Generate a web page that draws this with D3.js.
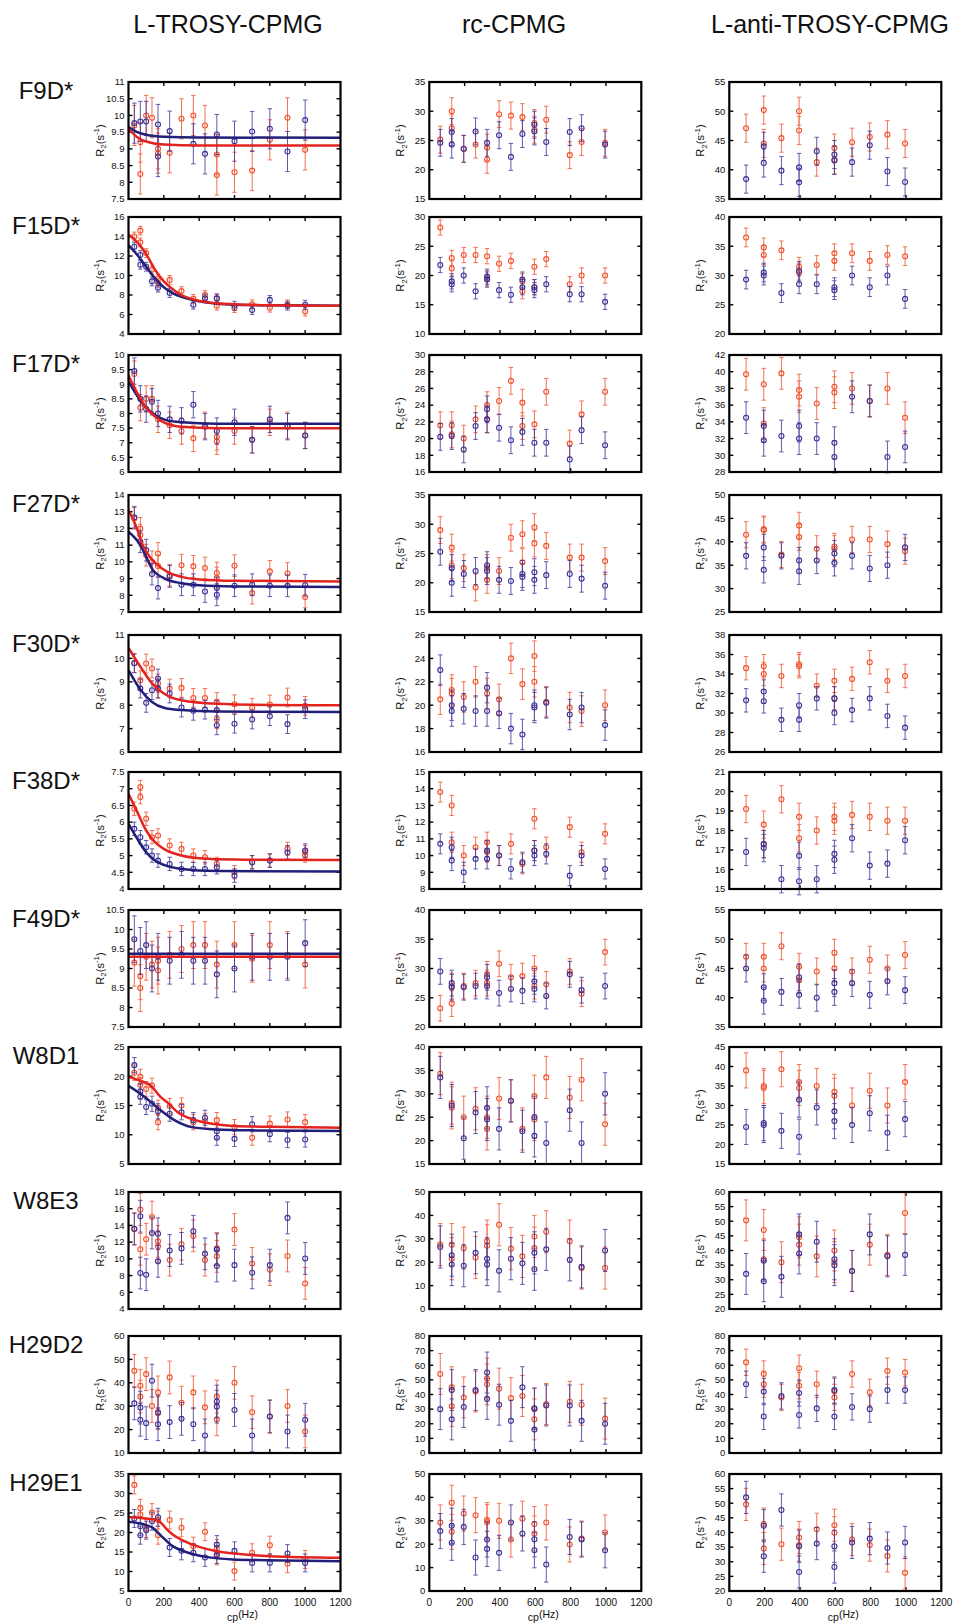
<!DOCTYPE html>
<html>
<head>
<meta charset="utf-8">
<script src="https://cdn.jsdelivr.net/npm/d3@7"></script>
<style>
body { margin: 0; background: #fff; }
text { font-family: "Liberation Sans", Arial, sans-serif; fill: #111; }
</style>
</head>
<body>
<div id="chart"></div>
<script>
// ---- data ----
var residues = ["F9D*", "F15D*", "F17D*", "F27D*", "F30D*", "F38D*", "F49D*", "W8D1", "W8E3", "H29D2", "H29E1"];
var methods = ["L-TROSY-CPMG", "rc-CPMG", "L-anti-TROSY-CPMG"];
var xTicks = [0, 200, 400, 600, 800, 1000, 1200];

// [min, max, step] of each y axis
var trosyY = [[7.5,11,0.5],[4,16,2],[6,10,0.5],[7,14,1],[6,11,1],[4,7.5,0.5],[7.5,10.5,0.5],[5,25,5],[4,18,2],[10,60,10],[5,35,5]];
var rcY = [[15,35,5],[10,30,5],[16,30,2],[15,35,5],[16,26,2],[8,15,1],[20,40,5],[15,40,5],[0,50,10],[0,80,10],[0,50,10]];
var antiY = [[35,55,5],[20,40,5],[28,42,2],[25,50,5],[26,38,2],[15,21,1],[35,55,5],[15,45,5],[20,60,5],[0,80,10],[20,60,5]];

// half error bar, per panel
var trosyErr = [0.6,0.45,0.45,0.65,0.4,0.2,0.6,1.3,1.9,7,2.3];
var rcErr = [2.3,1.3,1.6,2.3,1.3,0.6,2.2,4.5,9,14,7.5];
var antiErr = [2.4,1.6,1.9,2.8,1.2,0.7,2.3,4.5,7,9,5.5];

// [nu_cp (Hz), R2 (s-1)]
var trosyBlue = [
  [[33,9.77],[67,9.82],[100,9.82],[167,9.73],[167,8.77],[233,9.53],[367,9.15],[433,8.85],[500,9.43],[600,9.23],[700,9.52],[800,9.6],[900,8.92],[1000,9.86]],
  [[33,12.95],[67,12.1],[67,11.1],[100,10.9],[133,9.4],[167,8.75],[233,8.2],[367,7.0],[433,7.65],[500,7.65],[600,6.9],[700,6.45],[800,7.5],[900,6.9],[1000,7.0]],
  [[33,9.45],[67,8.5],[100,8.15],[133,8.4],[167,8.0],[233,7.8],[300,7.75],[367,8.3],[433,7.55],[500,7.4],[600,7.7],[700,7.1],[800,7.8],[900,7.55],[1000,7.25]],
  [[33,12.67],[67,11.2],[100,10.7],[133,9.27],[167,8.43],[233,9.13],[300,8.63],[367,8.63],[433,8.23],[500,8.03],[500,8.43],[600,8.57],[700,8.63],[800,8.57],[900,8.57],[1000,8.6]],
  [[33,9.79],[67,8.71],[100,8.1],[133,8.64],[167,9.14],[167,8.71],[233,8.5],[300,7.9],[367,7.76],[433,7.81],[500,7.79],[500,7.14],[600,7.21],[700,7.39],[800,7.53],[900,7.19],[1000,7.83]],
  [[33,5.8],[67,5.55],[100,5.25],[133,5.0],[167,4.85],[233,4.75],[300,4.6],[367,4.6],[433,4.6],[500,4.65],[600,4.4],[700,4.8],[800,4.85],[900,5.1],[1000,5.15]],
  [[33,9.75],[67,9.45],[100,9.6],[133,9.0],[167,9.3],[233,9.2],[300,9.35],[367,9.2],[433,9.2],[500,8.85],[600,9.0],[700,9.3],[800,9.3],[900,9.3],[1000,9.65]],
  [[33,21.9],[67,17.4],[67,16.5],[100,14.75],[133,15.3],[167,14.0],[233,13.6],[300,13.85],[367,12.5],[433,12.9],[500,9.5],[500,10.6],[600,9.3],[700,11.8],[800,10.1],[900,9.1],[1000,9.2]],
  [[33,13.6],[67,15.1],[67,8.3],[100,8.1],[133,13.1],[167,13.0],[167,9.7],[233,11.0],[300,11.25],[367,13.3],[433,10.6],[500,11.1],[500,9.15],[600,9.25],[700,8.33],[800,9.25],[900,14.9],[1000,10.05]],
  [[33,31.2],[67,29.4],[67,24.2],[100,22.75],[133,40.9],[167,22.3],[167,27.4],[233,23.2],[300,24.6],[367,22.3],[433,17.5],[500,32.0],[500,29.8],[600,28.4],[700,17.5],[800,25.6],[900,19.2],[1000,24.2]],
  [[33,23.6],[67,19.3],[67,21.6],[100,20.6],[133,22.9],[167,23.9],[233,16.15],[300,15.3],[367,14.8],[433,13.6],[500,14.35],[500,16.9],[600,15.3],[700,12.2],[800,12.2],[900,14.6],[1000,12.2]]
];
var trosyRed = [
  [[33,9.7],[67,9.2],[67,8.25],[100,10.0],[133,9.93],[167,9.0],[167,8.87],[233,8.88],[300,9.9],[367,10.0],[433,9.7],[500,8.83],[500,8.22],[600,8.3],[700,8.35],[800,9.27],[900,9.93],[1000,8.97]],
  [[33,14.0],[67,14.6],[67,13.4],[100,12.3],[133,10.6],[167,9.7],[167,9.25],[233,9.55],[300,8.4],[367,7.6],[433,8.0],[500,7.65],[500,6.9],[600,6.65],[700,7.05],[800,6.7],[900,7.05],[1000,6.3]],
  [[33,9.35],[67,8.2],[100,8.5],[133,8.5],[167,7.8],[233,7.6],[300,7.4],[367,7.15],[433,7.6],[500,7.2],[500,7.05],[600,7.4],[700,7.1],[800,7.7],[900,7.6],[1000,7.25]],
  [[33,12.6],[67,12.0],[67,11.6],[100,10.4],[133,10.0],[167,10.5],[167,9.75],[233,9.2],[300,9.8],[367,9.73],[433,9.63],[500,9.33],[500,9.03],[600,9.77],[700,8.13],[800,9.43],[900,9.3],[1000,7.9]],
  [[33,9.8],[67,9.07],[100,9.78],[133,9.57],[167,8.93],[167,8.71],[233,8.71],[300,8.74],[367,8.31],[433,8.31],[500,8.14],[500,7.4],[600,8.04],[700,7.89],[800,8.03],[900,8.33],[1000,7.97]],
  [[33,6.4],[67,7.05],[67,6.75],[100,6.1],[133,5.55],[167,5.6],[233,5.3],[300,5.2],[367,5.0],[433,4.95],[500,4.75],[600,4.5],[700,4.8],[800,4.85],[900,5.2],[1000,5.1],[1000,5.0]],
  [[33,9.15],[67,8.8],[67,8.5],[100,9.3],[133,9.1],[167,9.2],[167,8.95],[233,9.35],[300,9.5],[367,9.6],[433,9.6],[500,9.1],[600,9.6],[700,9.25],[800,9.6],[900,9.35],[1000,9.1]],
  [[33,20.6],[67,19.9],[67,18.5],[100,17.8],[133,18.4],[167,14.6],[167,12.15],[233,14.9],[300,15.0],[367,12.15],[433,12.3],[500,12.5],[600,11.3],[700,9.5],[800,11.9],[900,12.6],[1000,12.15]],
  [[33,13.55],[67,15.9],[67,11.15],[100,12.35],[133,15.0],[167,12.1],[167,11.5],[233,9.85],[300,11.75],[367,12.75],[433,9.85],[500,10.3],[500,11.25],[600,13.5],[700,9.45],[800,8.7],[900,10.35],[1000,7.06]],
  [[33,45.1],[67,38.75],[67,34.1],[100,43.7],[133,30.1],[167,35.9],[167,27.0],[233,42.3],[300,31.5],[367,35.9],[433,29.5],[500,34.1],[500,24.4],[600,40.0],[700,27.4],[800,25.6],[900,30.1],[1000,19.2]],
  [[33,32.2],[67,26.2],[67,24.6],[100,21.0],[133,25.1],[167,23.2],[167,19.3],[233,23.2],[300,21.2],[367,16.5],[433,20.2],[500,14.0],[500,15.9],[600,10.1],[700,14.8],[800,16.75],[900,12.0],[1000,13.1]]
];

// fitted curves, points (null = no fit shown)
var trosyFitBlue = [
  [[0,9.65],[50,9.5],[100,9.42],[200,9.36],[400,9.34],[1200,9.33]],
  [[0,13.1],[50,12.1],[100,10.9],[150,9.7],[200,8.8],[250,8.2],[300,7.8],[400,7.35],[500,7.1],[600,7.0],[800,6.95],[1200,6.9]],
  [[0,9.1],[50,8.6],[100,8.2],[150,7.95],[200,7.8],[300,7.7],[500,7.65],[1200,7.65]],
  [[0,11.8],[67,11.0],[100,10.3],[133,9.6],[200,9.03],[300,8.72],[400,8.6],[600,8.53],[1200,8.5]],
  [[0,9.5],[67,8.67],[133,8.14],[200,7.89],[300,7.79],[500,7.73],[1200,7.71]],
  [[0,5.95],[50,5.5],[100,5.1],[150,4.85],[200,4.72],[300,4.6],[500,4.54],[1200,4.52]],
  [[0,9.38],[1200,9.38]],
  [[0,18.35],[90,16.5],[165,14.6],[260,12.5],[360,11.3],[500,10.9],[700,10.75],[1200,10.65]],
  null,
  null,
  [[0,22.75],[100,21.9],[137,21.2],[175,19.6],[250,16.5],[325,15.0],[438,13.75],[590,13.1],[780,12.9],[1200,12.6]]
];
var trosyFitRed = [
  [[0,9.6],[50,9.35],[100,9.22],[200,9.13],[400,9.1],[1200,9.1]],
  [[0,14.2],[50,13.4],[100,12.2],[150,10.6],[200,9.4],[250,8.6],[300,8.0],[400,7.4],[500,7.15],[600,7.05],[800,6.95],[1200,6.9]],
  [[0,9.3],[50,8.7],[100,8.2],[150,7.9],[200,7.7],[300,7.55],[500,7.5],[1200,7.5]],
  [[0,13.1],[40,12.2],[85,10.9],[120,10.3],[160,9.85],[220,9.4],[300,9.1],[400,8.95],[600,8.87],[1200,8.83]],
  [[0,10.45],[67,9.65],[133,8.93],[200,8.5],[300,8.21],[500,8.06],[800,8.01],[1200,8.0]],
  [[0,6.85],[50,6.3],[100,5.75],[150,5.4],[200,5.2],[300,5.0],[400,4.92],[600,4.88],[1200,4.87]],
  [[0,9.3],[1200,9.3]],
  [[0,19.9],[60,19.3],[130,18.3],[180,16.5],[225,15.4],[280,13.8],[340,12.9],[450,12.0],[600,11.5],[800,11.35],[1200,11.2]],
  null,
  null,
  [[0,24.0],[100,23.6],[160,23.2],[190,22.2],[213,21.0],[250,19.5],[307,18.0],[400,16.3],[500,15.2],[600,14.6],[800,13.9],[1200,13.5]]
];

var rcBlue = [
  [[62,24.6],[127,26.45],[127,24.3],[195,23.6],[262,26.55],[327,24.6],[395,25.9],[462,22.2],[527,26.1],[595,26.55],[595,27.7],[662,24.75],[795,26.45],[862,27.1],[995,24.3]],
  [[62,21.8],[127,19.0],[127,18.5],[195,20.0],[262,17.3],[327,19.8],[327,19.3],[395,17.5],[462,16.7],[527,19.3],[527,18.0],[595,17.5],[595,18.0],[662,18.5],[795,16.8],[862,16.8],[995,15.5]],
  [[62,20.2],[127,20.3],[195,18.7],[262,21.5],[327,22.3],[327,23.5],[395,21.3],[462,19.8],[527,20.8],[595,19.5],[662,19.5],[795,17.5],[862,21.0],[995,19.2]],
  [[62,25.3],[127,22.5],[127,20.0],[195,21.5],[262,22.0],[327,23.0],[327,22.0],[395,20.5],[462,20.3],[527,21.5],[527,21.0],[595,21.8],[595,20.5],[662,21.3],[795,21.5],[862,20.7],[995,19.5]],
  [[62,23.0],[127,20.0],[127,19.5],[195,19.7],[262,19.5],[327,21.5],[327,19.5],[395,19.3],[462,18.0],[527,17.5],[595,20.0],[595,19.8],[662,20.2],[795,19.2],[862,19.8],[995,18.3]],
  [[62,10.7],[127,9.7],[127,10.5],[195,9.0],[262,9.8],[327,10.3],[327,9.8],[395,10.0],[462,9.2],[527,9.6],[595,10.3],[595,10.0],[662,10.1],[795,8.8],[862,10.0],[995,9.2]],
  [[62,29.5],[127,26.8],[127,27.5],[195,26.8],[262,27.0],[327,28.5],[327,27.0],[395,25.8],[462,26.5],[527,26.2],[595,27.8],[595,26.5],[662,25.3],[795,29.0],[862,26.3],[995,27.0]],
  [[62,33.5],[127,27.5],[195,20.5],[262,26.0],[327,27.0],[327,24.5],[395,22.5],[462,28.5],[527,22.0],[595,25.0],[595,21.0],[662,19.5],[795,26.5],[862,19.5],[995,30.0]],
  [[62,26.5],[127,23.0],[127,19.0],[195,18.5],[262,24.0],[327,21.5],[327,19.0],[395,16.3],[462,21.5],[527,19.5],[595,24.0],[595,17.0],[662,25.5],[795,21.0],[862,18.0],[995,25.0]],
  [[62,30.0],[127,43.0],[127,23.0],[195,31.5],[262,43.0],[327,55.0],[327,37.0],[395,33.0],[462,22.0],[527,45.0],[595,30.5],[595,16.0],[662,32.5],[795,32.5],[862,22.0],[995,20.0]],
  [[62,25.6],[127,27.9],[127,20.6],[195,27.4],[262,14.3],[327,22.0],[327,18.0],[395,16.3],[462,29.3],[527,24.6],[595,22.1],[595,17.4],[662,11.3],[795,23.1],[862,22.0],[995,17.4]]
];
var rcRed = [
  [[62,25.15],[127,30.0],[127,27.1],[195,23.55],[262,24.3],[327,23.8],[327,21.7],[395,29.5],[462,29.25],[527,29.0],[595,28.0],[595,26.85],[662,28.55],[795,22.5],[862,24.75],[995,24.6]],
  [[62,28.2],[127,23.0],[127,21.2],[195,23.5],[262,23.5],[327,19.5],[327,23.3],[395,22.0],[462,22.5],[527,19.0],[527,17.3],[595,21.5],[595,18.0],[662,22.8],[795,18.5],[862,20.0],[995,20.0]],
  [[62,21.6],[127,21.6],[127,20.5],[195,20.0],[262,22.3],[327,24.0],[327,22.3],[395,24.5],[462,26.9],[527,24.3],[527,21.5],[595,21.7],[662,25.6],[795,19.4],[862,22.9],[995,25.6]],
  [[62,29.0],[127,26.0],[127,23.0],[195,22.5],[262,19.2],[327,22.5],[327,20.5],[395,22.0],[462,27.7],[527,28.3],[527,23.5],[595,29.5],[595,26.7],[662,26.3],[795,24.3],[862,24.3],[995,23.7]],
  [[62,20.5],[127,21.3],[127,21.0],[195,20.7],[262,22.0],[327,21.0],[395,20.5],[462,24.0],[527,21.8],[595,24.2],[595,22.0],[662,20.3],[795,19.8],[862,19.5],[995,20.0]],
  [[62,13.8],[127,13.0],[127,10.8],[195,10.0],[262,10.5],[327,10.8],[327,10.2],[395,10.0],[462,10.7],[527,9.5],[595,12.2],[595,10.3],[662,10.5],[795,11.7],[862,10.2],[995,11.3]],
  [[62,23.2],[127,24.0],[127,27.0],[195,27.0],[262,27.5],[327,29.0],[327,27.5],[395,30.8],[462,28.5],[527,28.7],[595,30.0],[595,27.0],[662,27.3],[795,29.5],[862,25.7],[995,32.8]],
  [[62,34.3],[127,28.0],[127,27.0],[195,25.0],[262,26.8],[327,25.0],[327,22.5],[395,29.0],[462,28.5],[527,22.5],[595,29.5],[595,24.5],[662,33.5],[795,29.2],[862,33.0],[995,23.5]],
  [[62,27.5],[127,27.5],[127,21.5],[195,26.0],[262,22.0],[327,27.0],[327,29.0],[395,36.0],[462,25.8],[527,22.5],[595,31.0],[595,26.0],[662,33.0],[795,29.0],[862,17.5],[995,17.5]],
  [[62,54.0],[127,45.0],[127,32.0],[195,38.0],[262,42.0],[327,51.0],[327,47.0],[395,44.0],[462,37.5],[527,39.0],[595,30.0],[595,23.0],[662,33.5],[795,35.0],[862,33.0],[995,23.5]],
  [[62,29.3],[127,37.7],[127,25.3],[195,33.1],[262,32.4],[327,30.3],[327,29.4],[395,30.0],[462,22.0],[527,30.9],[595,28.6],[595,24.6],[662,29.3],[795,19.9],[862,22.4],[995,25.0]]
];

var antiBlue = [
  [[95,38.4],[195,44.0],[195,41.15],[295,39.85],[395,40.4],[395,37.85],[495,43.15],[595,42.6],[595,41.6],[695,41.3],[795,44.2],[895,39.7],[995,37.9]],
  [[95,29.3],[195,30.5],[195,30.0],[295,27.0],[395,30.8],[395,28.5],[495,28.5],[595,28.0],[595,27.5],[695,30.0],[795,28.0],[895,30.0],[995,26.0]],
  [[95,34.5],[195,33.5],[195,31.8],[295,32.3],[395,33.5],[395,32.0],[495,32.0],[595,31.5],[595,29.8],[695,37.0],[795,36.5],[895,29.8],[995,31.0]],
  [[95,37.0],[195,38.8],[195,34.0],[295,37.0],[395,36.0],[395,33.7],[495,36.0],[595,37.5],[595,35.5],[695,37.0],[795,34.3],[895,35.0],[995,38.8]],
  [[95,31.3],[195,32.2],[195,31.2],[295,29.3],[395,30.8],[395,29.3],[495,31.5],[595,31.5],[595,30.0],[695,30.3],[795,31.5],[895,29.7],[995,28.5]],
  [[95,16.9],[195,17.3],[195,17.1],[295,15.5],[395,16.7],[395,15.4],[495,15.5],[595,16.8],[595,16.5],[695,17.6],[795,16.2],[895,16.3],[995,17.5]],
  [[95,45.0],[195,41.8],[195,39.5],[295,41.0],[395,43.5],[395,40.5],[495,40.0],[595,42.5],[595,41.0],[695,42.5],[795,40.5],[895,42.8],[995,41.3]],
  [[95,24.5],[195,25.5],[195,25.0],[295,23.5],[395,31.5],[395,22.0],[495,29.5],[595,28.5],[595,26.0],[695,25.0],[795,28.0],[895,23.0],[995,26.5]],
  [[95,32.0],[195,36.5],[195,29.5],[295,31.0],[395,45.5],[395,39.0],[495,43.0],[595,37.0],[595,35.0],[695,33.0],[795,45.5],[895,38.0],[995,38.5]],
  [[95,47.0],[195,42.0],[195,25.0],[295,39.0],[395,41.0],[395,26.0],[495,30.5],[595,43.0],[595,25.0],[695,31.5],[795,30.0],[895,43.0],[995,43.0]],
  [[95,52.0],[195,42.3],[195,31.9],[295,47.7],[395,35.3],[395,26.5],[495,36.2],[595,35.3],[595,28.2],[695,36.6],[795,37.9],[895,34.7],[995,36.6]]
];
var antiRed = [
  [[95,47.1],[195,50.2],[195,44.5],[295,45.4],[395,50.0],[395,46.7],[495,41.3],[595,43.7],[595,41.7],[695,44.7],[795,45.6],[895,46.0],[995,44.5]],
  [[95,36.5],[195,34.8],[195,33.5],[295,34.3],[395,31.5],[395,30.5],[495,31.8],[595,33.8],[595,32.5],[695,33.8],[795,32.5],[895,33.5],[995,33.3]],
  [[95,39.7],[195,38.5],[195,33.8],[295,39.8],[395,37.8],[395,37.0],[495,36.2],[595,38.2],[595,37.5],[695,38.0],[795,36.5],[895,38.0],[995,34.5]],
  [[95,41.5],[195,42.7],[195,42.5],[295,37.3],[395,43.5],[395,41.0],[495,38.5],[595,39.0],[595,38.5],[695,40.5],[795,40.5],[895,39.5],[995,38.0]],
  [[95,34.6],[195,34.8],[195,34.0],[295,33.8],[395,35.0],[395,34.8],[495,32.8],[595,33.3],[595,31.5],[695,33.5],[795,35.2],[895,33.3],[995,33.8]],
  [[95,19.1],[195,18.3],[195,17.3],[295,19.6],[395,18.7],[395,17.6],[495,18.0],[595,18.7],[595,18.5],[695,18.8],[795,18.7],[895,18.5],[995,18.5]],
  [[95,47.0],[195,47.0],[195,45.0],[295,48.8],[395,45.3],[395,43.0],[495,44.5],[595,47.7],[595,45.0],[695,44.5],[795,46.5],[895,45.0],[995,47.3]],
  [[95,39.0],[195,35.0],[195,34.5],[295,39.3],[395,36.0],[395,34.5],[495,35.0],[595,33.5],[595,32.5],[695,30.0],[795,33.8],[895,30.0],[995,36.0]],
  [[95,50.3],[195,47.0],[195,37.0],[295,36.0],[395,44.5],[395,42.0],[495,38.0],[595,40.0],[595,36.0],[695,33.0],[795,42.0],[895,38.5],[995,52.8]],
  [[95,62.0],[195,54.0],[195,47.0],[295,38.0],[395,58.0],[395,46.0],[495,47.0],[595,42.0],[595,38.0],[695,54.0],[795,41.5],[895,56.0],[995,55.0]],
  [[95,49.6],[195,42.9],[195,34.5],[295,36.0],[395,38.3],[395,35.7],[495,41.1],[595,42.5],[595,39.9],[695,37.6],[795,35.7],[895,32.0],[995,26.2]]
];

// ---- layout ----
var W = 958, H = 1623;
var colLeft = [128.5, 429.3, 729.3];
var titleX = [228, 514, 830];
var rowTop = [82, 217, 355, 495, 635, 772, 910, 1047, 1192, 1336, 1474];
var plotW = 212, plotH = 117;

var blueDot = "#3a3196", redDot = "#f2502a";
var blueLine = "#221f7a", redLine = "#e3231e";

var columns = [
  { yd: trosyY, err: trosyErr, blue: trosyBlue, red: trosyRed, fitB: trosyFitBlue, fitR: trosyFitRed },
  { yd: rcY, err: rcErr, blue: rcBlue, red: rcRed },
  { yd: antiY, err: antiErr, blue: antiBlue, red: antiRed }
];

var svg = d3.select("#chart").append("svg")
    .attr("width", W)
    .attr("height", H);

// column titles
svg.selectAll("text.title")
    .data(methods)
    .enter().append("text")
    .attr("class", "title")
    .attr("x", function(d, i) { return titleX[i]; })
    .attr("y", 33)
    .attr("text-anchor", "middle")
    .style("font-size", "25px")
    .text(function(d) { return d; });

// row labels
svg.selectAll("text.res")
    .data(residues)
    .enter().append("text")
    .attr("class", "res")
    .attr("x", 46)
    .attr("y", function(d, i) { return rowTop[i] + 16.5; })
    .attr("text-anchor", "middle")
    .style("font-size", "24px")
    .text(function(d) { return d; });

var x = d3.scaleLinear().domain([0, 1200]).range([0, plotW]);
var fmt = function(d) { return String(+d.toFixed(1)); };

columns.forEach(function(col, c) {
  residues.forEach(function(res, r) {
    var yd = col.yd[r];
    var y = d3.scaleLinear().domain([yd[0], yd[1]]).range([plotH, 0]);
    var yTicks = d3.range(yd[0], yd[1] + yd[2] / 2, yd[2]);
    var g = svg.append("g")
        .attr("transform", "translate(" + colLeft[c] + "," + rowTop[r] + ")");

    var clipId = "clip" + c + "_" + r;
    g.append("clipPath").attr("id", clipId)
      .append("rect").attr("width", plotW).attr("height", plotH);

    // y tick labels
    g.selectAll("text.yt").data(yTicks).enter().append("text")
        .attr("class", "yt")
        .attr("x", -4)
        .attr("y", function(d) { return y(d); })
        .attr("dy", "0.35em")
        .attr("text-anchor", "end")
        .style("font-size", "9.5px")
        .text(fmt);

    // y axis title
    var lab = g.append("text")
        .attr("transform", "translate(-25," + (plotH / 2) + ") rotate(-90)")
        .attr("text-anchor", "middle")
        .style("font-size", "11px");
    lab.append("tspan").text("R");
    lab.append("tspan").attr("dy", 2.8).style("font-size", "8px").text("2");
    lab.append("tspan").attr("dy", -2.8).text("(s");
    lab.append("tspan").attr("dy", -4.5).style("font-size", "8px").text("-1");
    lab.append("tspan").attr("dy", 4.5).text(")");

    // inward ticks on all four sides
    var inner = yTicks.filter(function(d) { return d > yd[0] && d < yd[1]; });
    var innerX = xTicks.filter(function(d) { return d > 0 && d < 1200; });
    var tk = g.append("g").attr("stroke", "#000").attr("stroke-width", 1.4);
    inner.forEach(function(d) {
      tk.append("line").attr("x1", 0).attr("x2", 4).attr("y1", y(d)).attr("y2", y(d));
      tk.append("line").attr("x1", plotW).attr("x2", plotW - 4).attr("y1", y(d)).attr("y2", y(d));
    });
    innerX.forEach(function(d) {
      tk.append("line").attr("x1", x(d)).attr("x2", x(d)).attr("y1", 0).attr("y2", 4);
      tk.append("line").attr("x1", x(d)).attr("x2", x(d)).attr("y1", plotH).attr("y2", plotH - 4);
    });

    // error bars + points
    var e = col.err[r];
    [[col.red[r], redDot], [col.blue[r], blueDot]].forEach(function(s) {
      var pts = s[0], color = s[1];
      var eb = g.append("g").attr("stroke", color).attr("stroke-width", 1).attr("opacity", 0.8);
      pts.forEach(function(p) {
        var px = x(p[0]), y1 = y(p[1] - e), y2 = y(p[1] + e);
        eb.append("line").attr("x1", px).attr("x2", px).attr("y1", y1).attr("y2", y2);
        eb.append("line").attr("x1", px - 2.2).attr("x2", px + 2.2).attr("y1", y1).attr("y2", y1);
        eb.append("line").attr("x1", px - 2.2).attr("x2", px + 2.2).attr("y1", y2).attr("y2", y2);
      });
      g.append("g").selectAll("circle").data(pts).enter().append("circle")
          .attr("cx", function(p) { return x(p[0]); })
          .attr("cy", function(p) { return y(p[1]); })
          .attr("r", 2.5)
          .attr("fill", "none")
          .attr("stroke", color)
          .attr("stroke-width", 1.1);
    });

    // fitted curves
    if (col.fitB && col.fitB[r]) {
      var line = d3.line()
          .x(function(p) { return x(p[0]); })
          .y(function(p) { return y(p[1]); })
          .curve(d3.curveMonotoneX);
      g.append("path").datum(col.fitB[r])
          .attr("clip-path", "url(#" + clipId + ")")
          .attr("d", line).attr("fill", "none")
          .attr("stroke", blueLine).attr("stroke-width", 2.5);
      g.append("path").datum(col.fitR[r])
          .attr("clip-path", "url(#" + clipId + ")")
          .attr("d", line).attr("fill", "none")
          .attr("stroke", redLine).attr("stroke-width", 2.5);
    }

    // frame
    g.append("rect")
        .attr("width", plotW).attr("height", plotH)
        .attr("fill", "none").attr("stroke", "#000").attr("stroke-width", 2.2);

    // x axis labels on bottom row
    if (r === residues.length - 1) {
      g.selectAll("text.xt").data(xTicks).enter().append("text")
          .attr("class", "xt")
          .attr("x", function(d) { return x(d); })
          .attr("y", plotH + 15)
          .attr("text-anchor", "middle")
          .style("font-size", "10px")
          .text(function(d) { return d; });
      var xl = g.append("text")
          .attr("x", plotW / 2 + 8)
          .attr("y", plotH + 27)
          .attr("text-anchor", "middle")
          .style("font-size", "10.5px");
      xl.append("tspan").attr("dy", 3).text("cp");
      xl.append("tspan").attr("dy", -3).text("(Hz)");
    }
  });
});
</script>
</body>
</html>
